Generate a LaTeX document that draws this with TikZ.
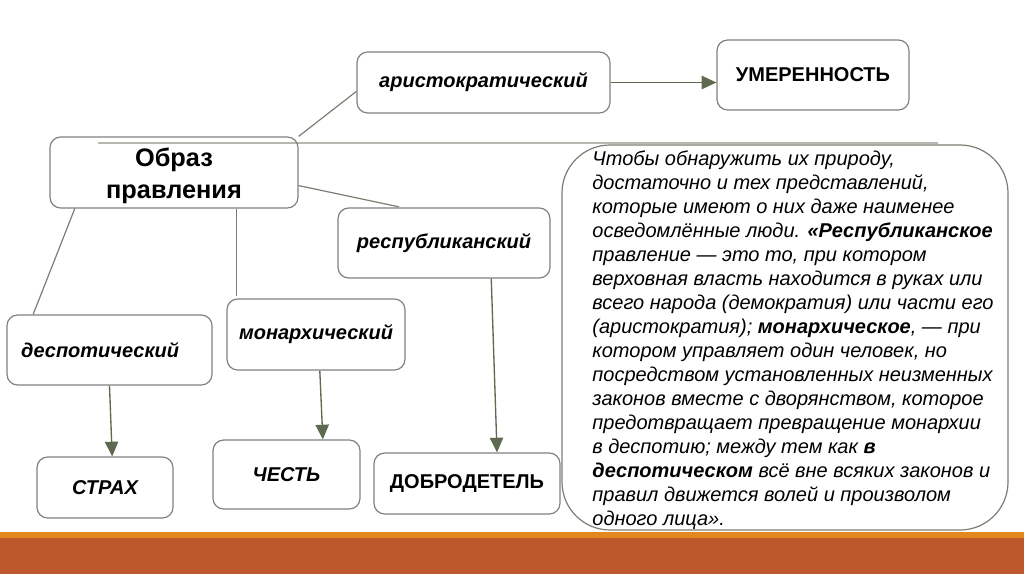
\documentclass[tikz,border=0pt]{standalone}
\usepackage{fontspec}
\setmainfont{Liberation Sans}
\usetikzlibrary{arrows.meta}

\definecolor{ramka}{HTML}{808080}
\definecolor{strelka}{HTML}{5E6A50}
\definecolor{liniya}{HTML}{7B7E70}
\definecolor{seraya}{HTML}{B8B8B0}
\definecolor{oranzh}{HTML}{E3871F}
\definecolor{kirpich}{HTML}{BC582C}

\begin{document}
\begin{tikzpicture}[x=0.75pt, y=-0.75pt, >={Triangle[length=11pt,width=10pt]},
  blok/.style={draw=ramka, line width=0.9pt, rounded corners=8pt, inner sep=0pt,
    font=\bfseries\fontsize{15}{18}\selectfont},
  kursiv/.style={blok, font=\bfseries\itshape\fontsize{15}{18}\selectfont},
  svyaz/.style={draw=liniya, line width=0.9pt},
  strel/.style={draw=strelka, fill=strelka, line width=1pt, ->}]
  \useasboundingbox (0,0) rectangle (1024,574);

  % --- фон слайда: линия и полоса внизу ---
  \draw[seraya, line width=1.5pt] (98,143) -- (938,143);
  \fill[oranzh] (0,532) rectangle (1024,538);
  \fill[kirpich] (0,538) rectangle (1024,574);

  % --- блоки схемы ---
  \node[blok, minimum width=186pt, minimum height=53.25pt,
    font=\bfseries\fontsize{19}{24}\selectfont] (obraz) at (174,172.5)
    {\raisebox{-2.5pt}[\height][\depth]{\begin{tabular}{@{}c@{}}Образ\\правления\end{tabular}}};
  \node[kursiv, minimum width=189.75pt, minimum height=45.75pt] (arist) at (483.5,82.5) {аристократический};
  \node[blok, minimum width=144pt, minimum height=52.5pt] (umer) at (813,75) {УМЕРЕННОСТЬ};
  \node[kursiv, minimum width=159pt, minimum height=52.5pt] (resp) at (444,243) {республиканский};
  \node[kursiv, minimum width=153.75pt, minimum height=52.5pt] (desp) at (109.5,350)
    {деспотический\hspace*{14pt}};
  \node[kursiv, minimum width=133.5pt, minimum height=53.25pt] (monar) at (316,334.5) {монархический};
  \node[kursiv, minimum width=102pt, minimum height=45.75pt] (strah) at (105,487.5) {СТРАХ};
  \node[kursiv, minimum width=110.25pt, minimum height=51.75pt] (chest) at (286.5,474.5) {ЧЕСТЬ};
  \node[blok, minimum width=139.5pt, minimum height=45.75pt] (dobro) at (467,483.5) {ДОБРОДЕТЕЛЬ};

  % --- цитата справа ---
  \node[draw=liniya, line width=0.9pt, rounded corners=36pt, minimum width=334.5pt,
    minimum height=288.75pt, inner sep=0pt,
    font=\itshape\fontsize{15}{18}\selectfont] (citata) at (785,337.5)
    {\hspace*{12pt}\raisebox{-2.25pt}[\height][\depth]{\begin{tabular}{@{}l@{}}
     Чтобы обнаружить их природу,\\
     достаточно и тех представлений,\\
     которые имеют о них даже наименее\\
     осведомлённые люди. \textbf{«Республиканское}\\
     правление — это то, при котором\\
     верховная власть находится в руках или\\
     всего народа (демократия) или части его\\
     (аристократия); \textbf{монархическое}, — при\\
     котором управляет один человек, но\\
     посредством установленных неизменных\\
     законов вместе с дворянством, которое\\
     предотвращает превращение монархии\\
     в деспотию; между тем как \textbf{в}\\
     \textbf{деспотическом} всё вне всяких законов и\\
     правил движется волей и произволом\\
     одного лица».
     \end{tabular}}};

  % --- связи от «Образ правления» ---
  \draw[svyaz] (obraz.north east) -- (arist.184);
  \draw[svyaz, shorten >=2pt] (obraz.-6) -- (resp.140);
  \draw[svyaz] (obraz.200) -- (desp.155);
  \draw[svyaz, shorten >=2pt] (obraz.-30) -- (obraz.-30 |- monar.north);

  % --- стрелки ---
  \draw[strel] (arist.east) -- (arist.east -| umer.west);
  \draw[strel] (desp.south) -- (strah.77);
  \draw[strel] (monar.-84) -- (chest.44);
  \draw[strel] (resp.-37) -- (dobro.46);
\end{tikzpicture}
\end{document}
